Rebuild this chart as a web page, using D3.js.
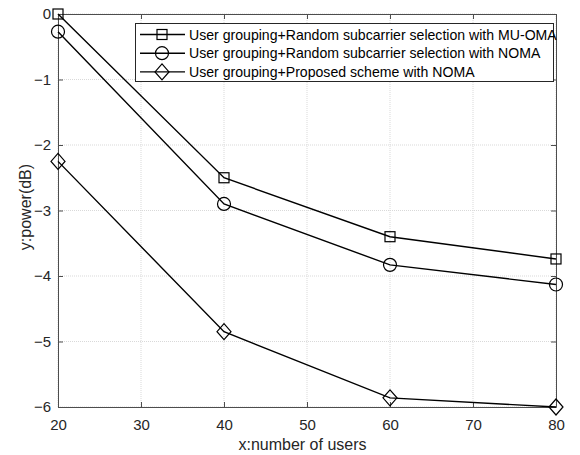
<!DOCTYPE html>
<html><head><meta charset="utf-8">
<script src="https://cdn.jsdelivr.net/npm/d3@7"></script>
<style>body{margin:0;background:#fff}svg{display:block}text{font-family:"Liberation Sans",Arial,sans-serif}</style>
</head><body><svg id="c" width="580" height="455"></svg>
<script>
const users = [20, 40, 60, 80];
const omaRandom = [0, -2.5, -3.4, -3.74];
const nomaRandom = [-0.27, -2.9, -3.83, -4.13];
const nomaProposed = [-2.25, -4.85, -5.86, -6.0];
const seriesNames = [
  "User grouping+Random subcarrier selection with MU-OMA",
  "User grouping+Random subcarrier selection with NOMA",
  "User grouping+Proposed scheme with NOMA"
];
const markers = ["square", "circle", "diamond"];
const xTicks = [20, 30, 40, 50, 60, 70, 80];
const yTicks = [0, -1, -2, -3, -4, -5, -6];

const svg = d3.select("#c");
const L = 58, R = 556, T = 14, B = 407;
const x = d3.scaleLinear().domain([20, 80]).range([L, R]);
const y = d3.scaleLinear().domain([-6, 0]).range([B, T]);
const axisColor = "#4d4d4d", textColor = "#262626";

// grid
const g = svg.append("g");
g.selectAll(".gx").data(xTicks).enter().append("line")
  .attr("x1", d => x(d)).attr("x2", d => x(d)).attr("y1", T).attr("y2", B)
  .attr("stroke", "#d9d9d9").attr("stroke-width", 1).attr("stroke-dasharray", "1,1");
g.selectAll(".gy").data(yTicks).enter().append("line")
  .attr("y1", d => y(d)).attr("y2", d => y(d)).attr("x1", L).attr("x2", R)
  .attr("stroke", "#d9d9d9").attr("stroke-width", 1).attr("stroke-dasharray", "1,1");

// axes
function styleAxis(sel) {
  sel.attr("font-size", null).attr("font-family", null);
  sel.select(".domain").attr("stroke", axisColor);
  sel.selectAll(".tick line").attr("stroke", axisColor);
  sel.selectAll(".tick text").attr("fill", textColor).style("font-size", "15px");
}
svg.append("g").attr("transform", `translate(0,${B})`)
  .call(d3.axisBottom(x).tickValues(xTicks).tickSizeInner(-5).tickSizeOuter(0).tickPadding(12))
  .call(styleAxis);
svg.append("g").attr("transform", `translate(0,${T})`)
  .call(d3.axisTop(x).tickValues(xTicks).tickSizeInner(-5).tickSizeOuter(0).tickFormat(""))
  .call(styleAxis);
svg.append("g").attr("transform", `translate(${L},0)`)
  .call(d3.axisLeft(y).tickValues(yTicks).tickSizeInner(-5).tickSizeOuter(0).tickPadding(7).tickFormat(d3.format("d")))
  .call(styleAxis);
svg.append("g").attr("transform", `translate(${R},0)`)
  .call(d3.axisRight(y).tickValues(yTicks).tickSizeInner(-5).tickSizeOuter(0).tickFormat(""))
  .call(styleAxis);

// labels
svg.append("text").attr("x", 302.5).attr("y", 450).attr("text-anchor", "middle")
  .attr("fill", textColor).style("font-size", "16px").text("x:number of users");
svg.append("text").attr("transform", `translate(31,207) rotate(-90)`).attr("text-anchor", "middle")
  .attr("fill", textColor).style("font-size", "16px").text("y:power(dB)");

// marker drawing
function drawMarker(sel, type, cx, cy) {
  if (type === "square") {
    sel.append("rect").attr("x", cx - 5).attr("y", cy - 5).attr("width", 10).attr("height", 10)
      .attr("fill", "none").attr("stroke", "#000").attr("stroke-width", 1.2);
  } else if (type === "circle") {
    sel.append("circle").attr("cx", cx).attr("cy", cy).attr("r", 6.5)
      .attr("fill", "none").attr("stroke", "#000").attr("stroke-width", 1.2);
  } else {
    sel.append("path").attr("d", `M${cx},${cy - 8}L${cx + 7},${cy}L${cx},${cy + 8}L${cx - 7},${cy}Z`)
      .attr("fill", "none").attr("stroke", "#000").attr("stroke-width", 1.2);
  }
}

const allSeries = [omaRandom, nomaRandom, nomaProposed];
const line = d3.line().x((d, i) => x(users[i])).y(d => y(d));
allSeries.forEach((vals, si) => {
  const sg = svg.append("g");
  sg.append("path").datum(vals).attr("d", line).attr("fill", "none")
    .attr("stroke", "#000").attr("stroke-width", 1.4);
  vals.forEach((v, i) => drawMarker(sg, markers[si], x(users[i]), y(v)));
});

// legend
const lg = svg.append("g");
lg.append("rect").attr("x", 135.5).attr("y", 23.5).attr("width", 418).attr("height", 58)
  .attr("fill", "#fff").attr("stroke", "#262626").attr("stroke-width", 1);
seriesNames.forEach((name, i) => {
  const ly = 34.5 + i * 18.7;
  lg.append("line").attr("x1", 140).attr("x2", 185).attr("y1", ly).attr("y2", ly)
    .attr("stroke", "#000").attr("stroke-width", 1.4);
  drawMarker(lg, markers[i], 162, ly);
  lg.append("text").attr("x", 189).attr("y", ly + 5).attr("fill", "#000")
    .style("font-size", "14.1px").text(name);
});
</script></body></html>
